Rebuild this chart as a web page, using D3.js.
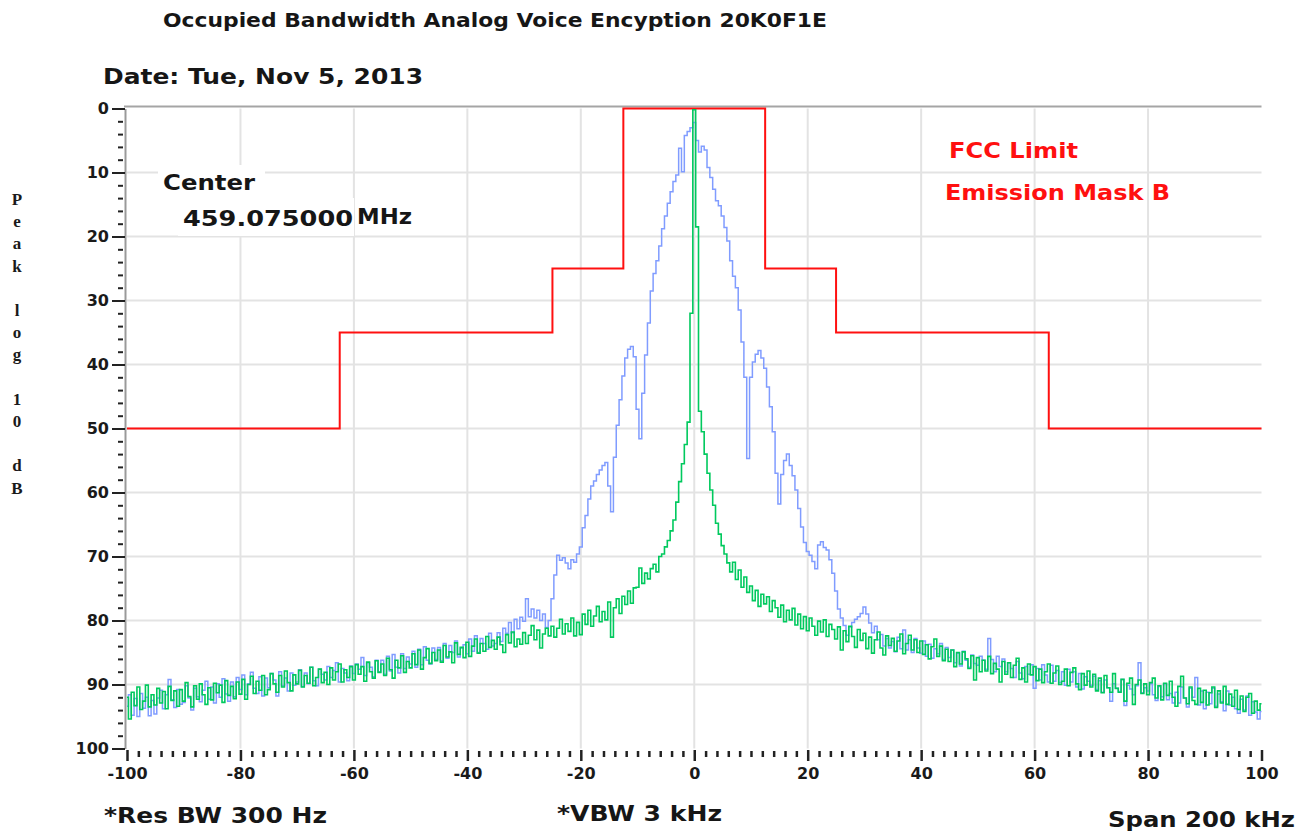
<!DOCTYPE html>
<html>
<head>
<meta charset="utf-8">
<script src="https://cdn.jsdelivr.net/npm/d3@7"></script>
<style>
  html, body { margin: 0; padding: 0; background: #ffffff; }
  svg { display: block; }
  text { font-family: "DejaVu Sans", Verdana, sans-serif; }
</style>
</head>
<body>
<svg id="chart" width="1314" height="833"></svg>
<script>
// ---- Sweep settings: 401 points, -100 kHz .. +100 kHz in 0.5 kHz bins ----
const sweepStart = -100;
const sweepStep = 0.5;

// Modulated carrier (analog voice encryption), peak hold, dB below reference
const modulatedTrace = [
  93.4, 91.6, 94.8, 92.2, 95.0, 91.4, 93.7, 92.0, 94.9, 92.5,
  94.6, 92.1, 90.9, 93.8, 91.6, 89.2, 92.4, 93.6, 90.8, 93.1,
  92.8, 90.2, 92.1, 94.0, 90.6, 91.9, 92.7, 90.9, 89.5, 92.3,
  90.4, 92.9, 89.9, 92.0, 89.1, 91.5, 92.6, 89.6, 91.9, 88.9,
  90.8, 88.5, 91.6, 89.9, 88.1, 90.6, 91.4, 88.8, 91.8, 89.0,
  90.5, 88.3, 89.3, 91.8, 88.0, 90.2, 89.0, 91.0, 88.2, 90.1,
  89.6, 87.7, 90.3, 88.2, 89.9, 87.3, 89.4, 90.2, 87.6, 88.4,
  89.3, 87.2, 88.9, 87.8, 86.6, 89.6, 87.5, 88.2, 89.4, 87.1,
  88.3, 86.8, 87.6, 85.8, 88.6, 86.6, 87.3, 88.8, 86.2, 88.0,
  86.2, 88.4, 85.6, 87.9, 85.3, 87.3, 88.2, 85.2, 87.5, 85.7,
  86.8, 84.8, 87.3, 84.5, 86.9, 84.1, 86.2, 86.8, 84.3, 86.1,
  84.2, 86.3, 83.6, 85.9, 83.9, 85.0, 83.2, 85.7, 84.3, 83.8,
  85.2, 82.9, 84.8, 82.4, 85.0, 82.8, 83.6, 84.5, 82.0, 84.0,
  83.6, 81.9, 83.3, 81.2, 82.0, 80.3, 81.9, 79.8, 81.3, 79.5,
  80.1, 76.6, 79.4, 78.2, 79.6, 78.4, 80.0, 79.0, 81.1, 80.0,
  76.6, 72.9, 69.8, 70.6, 70.2, 71.0, 71.9, 70.5, 70.9, 69.6,
  68.5, 65.5, 63.6, 61.0, 59.0, 58.2, 57.2, 56.5, 55.8, 55.3,
  59.0, 63.0, 54.5, 49.5, 45.5, 41.8, 39.0, 37.6, 37.2, 38.8,
  47.0, 51.6, 44.5, 38.5, 33.5, 28.5, 25.8, 23.8, 21.5, 18.8,
  16.8, 14.8, 13.0, 11.4, 10.4, 6.2, 9.9, 4.2, 3.6, 3.0,
  2.2, 5.0, 6.8, 5.9, 6.5, 9.2, 10.8, 12.6, 14.4, 15.2,
  16.8, 18.6, 20.7, 23.8, 26.2, 28.0, 31.5, 36.5, 42.0, 54.7,
  42.0, 39.6, 38.4, 37.8, 39.0, 40.6, 43.5, 46.6, 50.5, 57.0,
  61.8, 57.2, 55.0, 54.0, 55.8, 57.4, 59.6, 62.5, 65.4, 67.8,
  69.2, 69.8, 70.8, 71.9, 68.2, 67.7, 68.6, 69.0, 70.5, 72.6,
  75.4, 78.2, 79.6, 80.8, 82.3, 81.0, 80.3, 79.8, 79.4, 78.9,
  77.9, 79.0, 80.4, 81.9, 80.9, 83.0, 82.2, 84.0, 82.8, 84.3,
  83.3, 84.9, 82.6, 84.4, 81.5, 84.6, 83.0, 85.0, 82.8, 84.3,
  85.1, 83.2, 85.6, 83.7, 85.9, 84.4, 85.2, 83.6, 86.1, 84.2,
  85.8, 84.6, 86.6, 85.1, 87.1, 84.8, 86.2, 87.3, 85.4, 86.7,
  87.0, 85.6, 86.2, 87.6, 82.8, 86.1, 88.0, 85.6, 87.2, 86.0,
  88.0, 86.6, 87.5, 88.9, 86.4, 88.2, 89.1, 87.2, 88.4, 86.9,
  90.6, 87.5, 89.3, 86.9, 88.5, 89.6, 87.0, 89.5, 87.8, 89.7,
  88.0, 90.1, 87.6, 89.6, 88.0, 90.4, 88.3, 90.7, 88.8, 89.5,
  90.1, 88.7, 90.8, 89.4, 91.2, 89.3, 90.5, 92.6, 89.9, 90.6,
  91.1, 89.2, 93.3, 90.1, 90.7, 91.6, 90.2, 86.6, 91.3, 90.5,
  91.0, 89.9, 91.6, 92.5, 90.3, 91.9, 89.9, 92.4, 91.4, 92.9,
  91.2, 92.9, 90.4, 92.1, 93.5, 90.6, 92.0, 88.9, 93.2, 91.0,
  93.8, 91.2, 93.0, 90.6, 93.4, 91.5, 92.7, 94.1, 91.0, 93.2,
  92.0, 93.8, 94.5, 92.3, 94.0, 91.8, 94.8, 92.7, 94.3, 95.4,
  94.2
];

// Unmodulated carrier reference sweep
const carrierTrace = [
  92.0, 95.4, 91.2, 93.3, 90.4, 93.9, 92.6, 90.1, 93.5, 91.6,
  93.2, 90.6, 92.9, 91.1, 93.8, 90.3, 92.5, 91.0, 93.4, 90.8,
  92.6, 89.7, 91.9, 93.5, 90.2, 92.3, 89.9, 91.6, 93.1, 90.5,
  92.4, 89.8, 91.3, 90.1, 92.8, 89.4, 91.7, 90.3, 92.2, 89.6,
  91.5, 89.2, 92.3, 90.0, 88.7, 91.4, 89.5, 90.9, 88.6, 91.6,
  90.8, 88.3, 89.9, 91.2, 88.6, 90.4, 87.9, 89.7, 91.0, 88.5,
  89.9, 87.8, 90.4, 88.6, 89.8, 87.3, 90.2, 88.9, 87.6, 89.7,
  88.1, 90.0, 87.4, 89.3, 88.0, 86.8, 89.6, 87.7, 88.9, 87.2,
  89.3, 86.9, 88.4, 87.2, 89.5, 86.5, 88.0, 89.0, 86.3, 88.1,
  86.8, 88.6, 85.9, 87.7, 89.0, 86.2, 87.4, 85.5, 88.1, 86.4,
  87.4, 85.2, 86.9, 84.6, 87.6, 85.8, 84.4, 86.7, 85.0, 86.3,
  84.6, 86.5, 83.9, 85.7, 84.9, 86.6, 83.5, 85.3, 84.2, 85.8,
  83.4, 85.6, 84.0, 82.9, 85.1, 83.6, 84.8, 82.5, 84.2, 83.1,
  84.5, 82.6, 83.8, 85.0, 82.2, 83.5, 81.8, 84.1, 82.9, 83.7,
  81.9, 83.6, 82.3, 80.8, 83.0, 81.5, 84.3, 82.1, 81.2, 82.4,
  80.9, 82.6, 81.2, 79.8, 82.1, 80.5, 81.7, 79.6, 82.4, 80.3,
  82.2, 79.0, 80.6, 78.4, 80.9, 79.3, 77.8, 80.2, 78.6, 79.9,
  77.1, 82.6, 78.0, 76.6, 78.9, 76.2, 77.5, 75.4, 77.3, 74.9,
  74.8, 71.8, 74.2, 72.6, 73.5, 71.9, 71.2, 72.4, 70.0, 69.6,
  68.5, 67.5, 66.0, 64.3, 61.5, 58.3, 55.5, 52.5, 49.0, 32.0,
  0.2, 18.5, 47.3, 50.5, 54.0, 57.0, 59.6, 62.0, 64.8, 66.5,
  68.3, 69.6, 71.0, 72.4, 70.9, 73.6, 72.1, 74.8, 73.2, 75.6,
  74.6, 76.9, 75.3, 77.8, 75.9, 77.4, 76.3, 78.6, 76.9, 78.0,
  79.5, 77.6, 80.2, 78.4, 79.9, 78.1, 80.7, 79.0, 81.3, 79.4,
  81.6, 79.6, 80.9, 82.3, 80.1, 81.8, 79.9, 82.5, 80.6, 81.4,
  82.9, 81.0, 84.6, 81.6, 83.3, 80.9, 82.5, 84.2, 81.4, 83.1,
  82.0, 84.4, 82.6, 85.1, 83.0, 81.8, 84.3, 85.4, 82.4, 83.9,
  82.8, 84.8, 83.2, 82.1, 85.2, 83.6, 82.3, 84.6, 83.0, 85.0,
  83.2, 85.3, 83.8, 86.0, 84.1, 82.9, 85.6, 84.0, 86.3, 84.5,
  86.4, 84.6, 87.2, 85.0, 86.8, 84.9, 86.0, 87.5, 85.5, 89.3,
  85.8, 88.0, 86.2, 87.9, 85.6, 88.3, 86.7, 87.6, 89.6, 86.4,
  88.4, 86.6, 88.9, 87.0, 85.9, 89.2, 87.4, 89.6, 86.8, 88.5,
  87.2, 89.4, 87.6, 89.7, 88.0, 86.8, 89.8, 88.2, 87.1, 90.0,
  89.5, 87.6, 90.2, 88.1, 87.4, 89.9, 90.8, 88.3, 90.1, 87.9,
  90.4, 88.4, 91.0, 89.0, 91.3, 88.6, 90.5, 91.2, 88.3, 90.6,
  91.2, 89.2, 92.6, 89.8, 89.0, 93.1, 90.0, 89.3, 91.4, 89.9,
  91.6, 89.7, 89.0, 92.1, 90.2, 92.4, 89.8, 91.7, 89.5, 92.0,
  93.4, 90.3, 88.7, 92.1, 93.0, 90.4, 92.5, 93.1, 90.6, 92.8,
  90.9, 93.2, 91.3, 90.4, 93.6, 91.0, 92.9, 90.3, 93.1, 91.5,
  93.4, 90.9, 93.9, 91.8, 94.2, 92.0, 91.4, 94.5, 92.6, 94.0,
  93.0
];

// FCC emission mask B: corner frequencies (kHz) and attenuation (dB)
const maskFreq  = [-100, -62.5, -25, -12.5, 12.5, 25, 62.5, 100];
const maskLevel = [  50,    35,  25,     0,   25, 35,   50,  50];

// Axis ticks
const xMajorTicks = [-100, -80, -60, -40, -20, 0, 20, 40, 60, 80, 100];
const yMajorTicks = [0, 10, 20, 30, 40, 50, 60, 70, 80, 90, 100];
const yAxisLabel = "Peak log 10 dB";

// Annotation text
const titleText = "Occupied Bandwidth Analog Voice Encyption 20K0F1E";
const dateText = "Date: Tue, Nov 5, 2013";
const centerLabel = "Center";
const centerFreq = "459.075000";
const centerUnit = "MHz";
const limitLines = ["FCC Limit", "Emission Mask B"];
const footerLeft = "*Res BW 300 Hz";
const footerMid = "*VBW 3 kHz";
const footerRight = "Span 200 kHz";

// ---- Scales ----
const x = d3.scaleLinear().domain([-100, 100]).range([127, 1261.5]);
const y = d3.scaleLinear().domain([0, 100]).range([108.5, 748.5]);

const svg = d3.select("#chart");
svg.append("rect").attr("width", 1314).attr("height", 833).attr("fill", "#fff");

const freqs = modulatedTrace.map((_, i) => sweepStart + i * sweepStep);

// ---- Grid ----
const grid = svg.append("g").attr("stroke", "#e3e3e3").attr("stroke-width", 2);
grid.selectAll("line.v")
  .data(xMajorTicks.filter(d => d > -100 && d < 100))
  .join("line")
  .attr("x1", d => x(d)).attr("x2", d => x(d))
  .attr("y1", y(0)).attr("y2", y(100));
grid.selectAll("line.h")
  .data(yMajorTicks.filter(d => d > 0 && d < 100))
  .join("line")
  .attr("x1", x(-100)).attr("x2", x(100))
  .attr("y1", d => y(d)).attr("y2", d => y(d));

// top frame line
svg.append("line")
  .attr("x1", 124).attr("x2", x(100))
  .attr("y1", y(0) - 2).attr("y2", y(0) - 2)
  .attr("stroke", "#a5a5a5").attr("stroke-width", 2);

// ---- Axes ----
const yMinor = d3.range(0, 101, 2).filter(d => d % 10 !== 0);
const xMinor = d3.range(-100, 101, 2).filter(d => d % 20 !== 0);

const yAxisG = svg.append("g").attr("transform", "translate(125,0)");
yAxisG.call(d3.axisLeft(y).tickValues(yMajorTicks).tickSize(13).tickSizeOuter(0)
  .tickPadding(3).tickFormat(d => String(d)));
yAxisG.select(".domain").attr("stroke", "#9a9a9a").attr("stroke-width", 2);
yAxisG.selectAll(".tick line").attr("stroke", "#222").attr("stroke-width", 2);
yAxisG.selectAll(".tick text")
  .attr("fill", "#1a1a1a").attr("font-size", 16).attr("font-weight", "bold")
  .attr("font-family", "DejaVu Sans, sans-serif");

const yMinorG = svg.append("g").attr("transform", "translate(123,0)");
yMinorG.call(d3.axisLeft(y).tickValues(yMinor).tickSize(5).tickFormat(""));
yMinorG.select(".domain").remove();
yMinorG.selectAll(".tick line").attr("stroke", "#222").attr("stroke-width", 2);

const xAxisG = svg.append("g").attr("transform", "translate(0,750)");
xAxisG.call(d3.axisBottom(x).tickValues(xMajorTicks).tickSize(11).tickSizeOuter(0)
  .tickPadding(7).tickFormat(d => String(d)));
xAxisG.select(".domain").remove();
xAxisG.selectAll(".tick line").attr("stroke", "#222").attr("stroke-width", 2.5);
xAxisG.selectAll(".tick text")
  .attr("fill", "#1a1a1a").attr("font-size", 16).attr("font-weight", "bold")
  .attr("font-family", "DejaVu Sans, sans-serif");

const xMinorG = svg.append("g").attr("transform", "translate(0,751)");
xMinorG.call(d3.axisBottom(x).tickValues(xMinor).tickSize(6).tickFormat(""));
xMinorG.select(".domain").remove();
xMinorG.selectAll(".tick line").attr("stroke", "#222").attr("stroke-width", 2.5);

// ---- Emission mask ----
const maskLine = d3.line()
  .x((d, i) => x(maskFreq[i]))
  .y(d => y(d))
  .curve(d3.curveStepAfter);
svg.append("path")
  .attr("d", maskLine(maskLevel))
  .attr("fill", "none").attr("stroke", "#ff1010").attr("stroke-width", 2);

// ---- Traces ----
const traceLine = d3.line()
  .x((d, i) => x(freqs[i]))
  .y(d => y(d))
  .curve(d3.curveStep);

svg.append("path")
  .attr("d", traceLine(modulatedTrace))
  .attr("fill", "none").attr("stroke", "#809cff").attr("stroke-width", 1.5);

svg.append("path")
  .attr("d", traceLine(carrierTrace))
  .attr("fill", "none").attr("stroke", "#00c95e").attr("stroke-width", 1.6);

// ---- Text ----
function label(txt, xPos, yPos, size, width, color) {
  return svg.append("text")
    .attr("x", xPos).attr("y", yPos)
    .attr("font-size", size).attr("font-weight", "bold")
    .attr("fill", color || "#161616")
    .attr("textLength", width).attr("lengthAdjust", "spacingAndGlyphs")
    .text(txt);
}

label(titleText, 163, 27, 19, 664);
label(dateText, 103, 84, 22, 320);

// center frequency box (masks grid behind it)
svg.append("rect").attr("x", 158).attr("y", 165).attr("width", 107).attr("height", 33).attr("fill", "#fff");
svg.append("rect").attr("x", 178).attr("y", 198).attr("width", 176).attr("height", 38).attr("fill", "#fff");
label(centerLabel, 163, 190, 21, 92);
label(centerFreq, 183, 226, 21, 170);
label(centerUnit, 357, 224, 21, 55);

label(limitLines[0], 949, 158, 21, 129, "#ff1010");
label(limitLines[1], 945, 200, 21, 225, "#ff1010");

label(footerLeft, 104, 823, 21, 223);
label(footerMid, 557, 821, 21, 165);
label(footerRight, 1108, 827, 21, 187);

// vertical stacked y-axis title
const yl = svg.append("g")
  .attr("font-weight", "bold").attr("font-size", 17).attr("fill", "#1a1a1a");
yl.selectAll("text")
  .data(yAxisLabel.split(""))
  .join("text")
  .attr("x", 17)
  .attr("y", (d, i) => 205 + i * 22.2)
  .attr("text-anchor", "middle")
  .style("font-family", "Liberation Serif, Times New Roman, serif")
  .text(d => d);
</script>
</body>
</html>
